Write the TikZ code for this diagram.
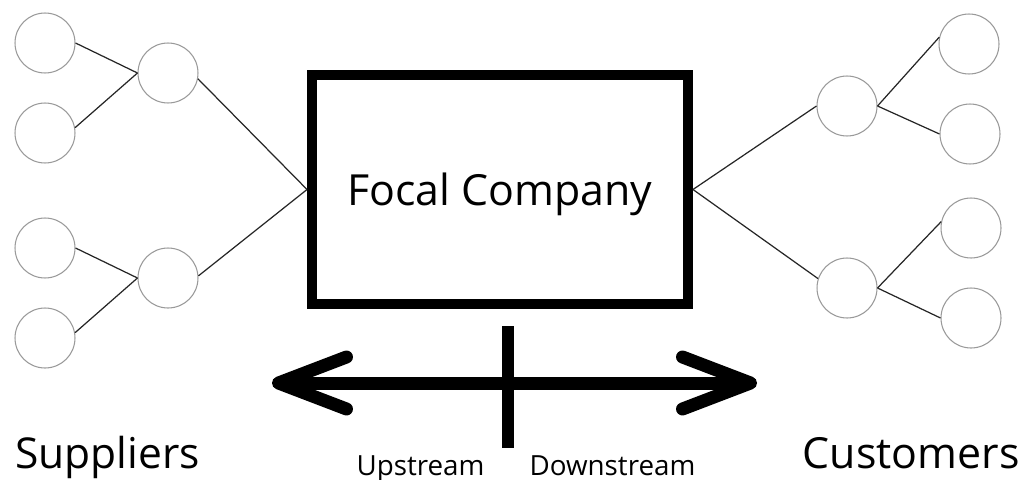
\documentclass[tikz,border=0pt]{standalone}
\usepackage{fontspec}
\setmainfont{Open Sans}
\usetikzlibrary{arrows.meta}

\begin{document}
\begin{tikzpicture}[x = 0.02cm, y = -0.02cm,
    firm/.style = {circle, draw = black!40, line width = .6pt, minimum size = 1.2cm, inner sep = 0pt},
    link/.style = {draw = black!85, line width = .7pt},
    focal/.style = {draw = black, line width = 0.2cm, minimum width = 7.52cm, minimum height = 4.58cm, inner sep = 0pt, text depth = 0pt},
    flow/.style = {line width = 0.26cm, {Straight Barb[length = 1.36cm, width = 1.04cm, round]}-{Straight Barb[length = 1.36cm, width = 1.04cm, round]}}]

    \useasboundingbox (0, 0) rectangle (1021, 480);

    \node [focal, font = \fontsize{24.4}{29}\selectfont] (company) at (500, 189.5) {Focal Company};

    % suppliers side
    \node [firm] (s1) at (45, 43) {};
    \node [firm] (s2) at (45, 133) {};
    \node [firm] (s3) at (45, 248) {};
    \node [firm] (s4) at (45, 338) {};
    \node [firm] (t1) at (168, 73) {};
    \node [firm] (t2) at (168, 278) {};

    \draw [link] (s1.east) -- (t1.west);
    \draw [link] (s2.10) -- (t1.west);
    \draw [link] (s3.east) -- (t2.west);
    \draw [link] (s4.10) -- (t2.west);
    \draw [link] (t1.349) -- (company.west);
    \draw [link] (t2.4) -- (company.west);

    % customers side
    \node [firm] (d1) at (847, 106) {};
    \node [firm] (d2) at (847, 288) {};
    \node [firm] (c1) at (969, 44) {};
    \node [firm] (c2) at (970, 134) {};
    \node [firm] (c3) at (971, 228) {};
    \node [firm] (c4) at (971, 318) {};

    \draw [link] (company.east) -- (d1.west);
    \draw [link] (company.east) -- (d2.162);
    \draw [link] (d1.east) -- (c1.167);
    \draw [link] (d1.east) -- (c2.west);
    \draw [link] (d2.east) -- (c3.168);
    \draw [link] (d2.east) -- (c4.west);

    %%%%%%%%%%%%%%%%%%%%
    \coordinate (up end) at (272, 383);
    \coordinate (down end) at (757, 383);
    \coordinate (tick top) at (508, 326);
    \coordinate (tick bottom) at (508, 448);
    \draw [flow] (up end) -- (down end);
    \draw [line width = 0.24cm] (tick top) -- (tick bottom);

    \node [anchor = base west, inner sep = 0pt, font = \fontsize{24.2}{29}\selectfont] (suppliers) at (15, 468) {Suppliers};
    \node [anchor = base east, inner sep = 0pt, font = \fontsize{24.4}{29}\selectfont] (customers) at (1020, 468) {Customers};
    \node [anchor = base, inner sep = 0pt, font = \fontsize{15.8}{19}\selectfont] (upstream) at (420.5, 475) {Upstream};
    \node [anchor = base, inner sep = 0pt, font = \fontsize{15.8}{19}\selectfont] (downstream) at (612.5, 475) {Downstream};
\end{tikzpicture}
\end{document}
